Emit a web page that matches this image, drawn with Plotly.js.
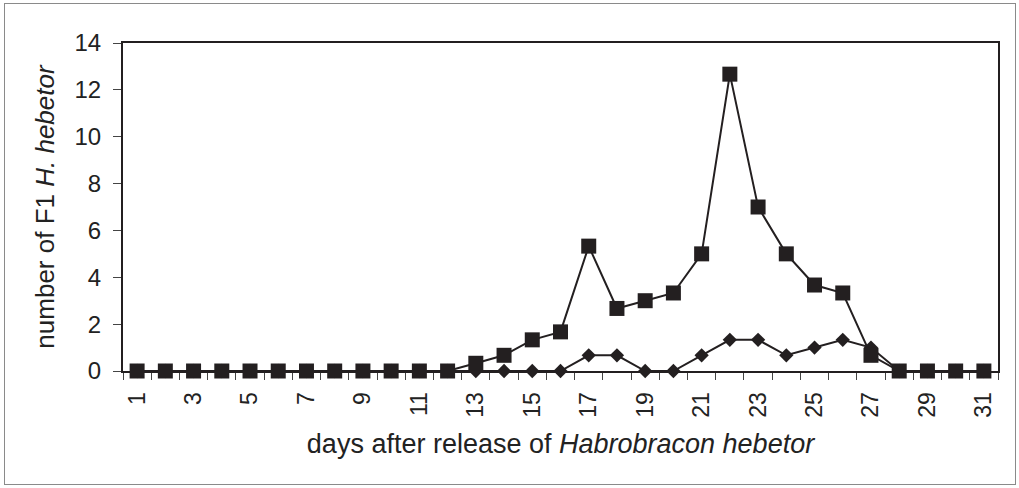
<!DOCTYPE html>
<html>
<head>
<meta charset="utf-8">
<script src="https://cdn.plot.ly/plotly-3.0.1.min.js"></script>
<style>
  html, body { margin: 0; padding: 0; background: #fff; }
  #wrap { position: relative; width: 1019px; height: 488px; }
  #chart { width: 1019px; height: 488px; }
  #frame { position: absolute; left: 4px; top: 3px; width: 1010px; height: 480px; border: 1px solid #8a8a8a; pointer-events: none; }
</style>
</head>
<body>
<div id="wrap"><div id="chart"></div><div id="frame"></div></div>
<script>
const days = [1,2,3,4,5,6,7,8,9,10,11,12,13,14,15,16,17,18,19,20,21,22,23,24,25,26,27,28,29,30,31];
const squareSeries = [0,0,0,0,0,0,0,0,0,0,0,0,0.33,0.67,1.33,1.67,5.33,2.67,3,3.33,5,12.67,7,5,3.67,3.33,0.67,0,0,0,0];
const diamondSeries = [0,0,0,0,0,0,0,0,0,0,0,0,0,0,0,0,0.67,0.67,0,0,0.67,1.33,1.33,0.67,1,1.33,1,0,0,0,0];
const xTickVals = [1,3,5,7,9,11,13,15,17,19,21,23,25,27,29,31];
const xTickText = ['1','3','5','7','9','11','13','15','17','19','21','23','25','27','29','31'];
const yTickVals = [0,2,4,6,8,10,12,14];

const ink = '#231f20';
const font = "'Liberation Sans', Arial, sans-serif";

const traces = [
  {
    x: days, y: diamondSeries, type: 'scatter', mode: 'lines+markers',
    line: {color: ink, width: 2},
    marker: {symbol: 'diamond', size: 11, color: ink},
    hoverinfo: 'skip', cliponaxis: false
  },
  {
    x: days, y: squareSeries, type: 'scatter', mode: 'lines+markers',
    line: {color: ink, width: 2},
    marker: {symbol: 'square', size: 15, color: ink},
    hoverinfo: 'skip', cliponaxis: false
  }
];

const layout = {
  width: 1019, height: 488,
  margin: {l: 123, r: 21, t: 43, b: 117},
  paper_bgcolor: '#fff', plot_bgcolor: '#fff',
  showlegend: false,
  font: {family: font, color: '#222', size: 23},
  xaxis: {
    range: [0.5, 31.5], fixedrange: true,
    tickmode: 'array', tickvals: xTickVals, ticktext: xTickText,
    tickangle: -90, ticks: '', ticklabelstandoff: 10,
    tickfont: {size: 23, family: font, color: '#222'},
    minor: {tick0: 0.5, dtick: 1, ticks: 'outside', ticklen: 7, tickwidth: 1, tickcolor: '#444', showgrid: false},
    showline: true, linecolor: ink, linewidth: 2, mirror: true,
    showgrid: false, zeroline: false,
    title: {text: 'days after release of <i>Habrobracon hebetor</i>', font: {size: 27, family: font, color: '#222'}, standoff: 17}
  },
  yaxis: {
    range: [0, 14], fixedrange: true,
    tickmode: 'array', tickvals: yTickVals,
    ticks: 'outside', ticklen: 8, tickwidth: 1, tickcolor: '#444', ticklabelstandoff: 7,
    tickfont: {size: 24, family: font, color: '#222'},
    showline: true, linecolor: ink, linewidth: 2, mirror: true,
    showgrid: false, zeroline: false,
    title: {text: 'number of F1 <i>H. hebetor</i>', font: {size: 26, family: font, color: '#222'}, standoff: 12}
  }
};

Plotly.newPlot('chart', traces, layout, {staticPlot: true, displayModeBar: false});
</script>
</body>
</html>
